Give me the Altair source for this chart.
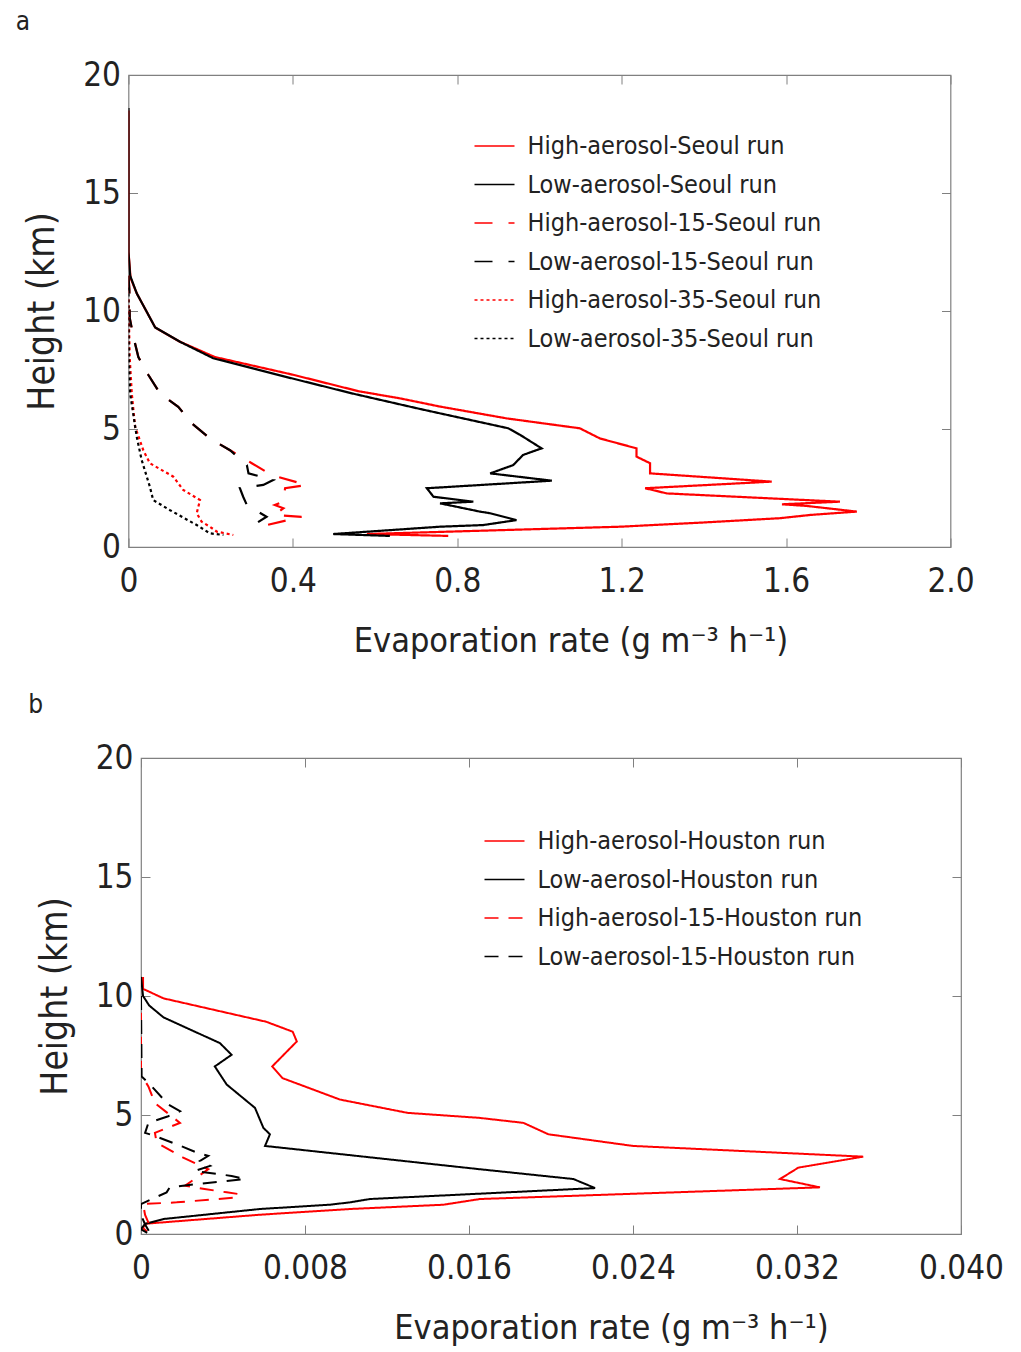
import altair as alt
import pandas as pd

FONT = "DejaVu Sans Condensed, DejaVu Sans, sans-serif"
GRAY = "#808080"

# ---------------- Panel a (Seoul) ----------------
a_series = ["High-aerosol-Seoul run", "Low-aerosol-Seoul run",
            "High-aerosol-15-Seoul run", "Low-aerosol-15-Seoul run",
            "High-aerosol-35-Seoul run", "Low-aerosol-35-Seoul run"]
a_colors = ["#ff0000", "#000000", "#ff0000", "#000000", "#ff0000", "#000000"]
a_dashes = [[1, 0], [1, 0], [18, 16], [18, 16], [3, 3], [3, 3]]

a_hi_h = [18.5, 12.5, 11.4, 10.75, 9.3, 8.7, 8.05, 7.3, 6.6, 6.3, 5.95, 5.45, 5.03, 4.6, 4.18, 3.83, 3.55,
          3.12, 2.77, 2.49, 2.27, 1.92, 1.81, 1.74, 1.5, 1.36, 1.22, 1.03, 0.86, 0.55, 0.47]
a_hi_v = [0.0, 0.0, 0.005, 0.02, 0.065, 0.125, 0.21, 0.40, 0.56, 0.66, 0.758, 0.92, 1.098, 1.147, 1.236, 1.236, 1.269,
          1.269, 1.565, 1.257, 1.31, 1.731, 1.59, 1.65, 1.772, 1.66, 1.585, 1.39, 1.196, 0.58, 0.778]

a_lo_h = [18.6, 12.5, 11.5, 10.75, 9.3, 8.7, 8.0, 7.2, 6.5, 5.85, 5.03, 4.75, 4.18, 3.9, 3.47, 3.12, 2.81,
          2.49, 2.13, 1.92, 1.85, 1.5, 1.43, 1.14, 0.93, 0.86, 0.55, 0.47]
a_lo_v = [0.0, 0.0, 0.004, 0.02, 0.065, 0.125, 0.206, 0.385, 0.546, 0.709, 0.924, 0.953, 1.005, 0.96, 0.936, 0.88, 1.03,
          0.726, 0.742, 0.839, 0.758, 0.855, 0.88, 0.944, 0.863, 0.758, 0.498, 0.636]

a_hi15_h = [11.5, 10.9, 9.7, 8.9, 8.05, 7.3, 6.5, 5.94, 5.24, 4.6, 4.1, 3.55, 3.05, 2.63, 2.49, 1.92, 1.78,
            1.64, 1.36, 1.28, 0.93, 0.86]
a_hi15_v = [0.0, 0.002, 0.003, 0.012, 0.024, 0.048, 0.077, 0.121, 0.154, 0.198, 0.247, 0.30, 0.348, 0.433, 0.381,
            0.377, 0.356, 0.377, 0.356, 0.421, 0.336, 0.312]

a_lo15_h = [11.5, 10.9, 9.7, 8.9, 8.05, 7.3, 6.5, 5.94, 5.24, 4.6, 4.1, 3.47, 3.12, 2.84, 2.63, 2.49, 2.13,
            1.78, 1.28, 0.93, 0.86]
a_lo15_v = [0.0, 0.002, 0.003, 0.012, 0.024, 0.048, 0.077, 0.121, 0.154, 0.198, 0.247, 0.288, 0.292, 0.352, 0.328,
            0.271, 0.279, 0.288, 0.336, 0.304, 0.296]

a_hi35_h = [10.5, 8.0, 6.5, 5.1, 4.1, 3.55, 2.98, 2.42, 1.99, 1.43, 1.07, 0.86, 0.65, 0.51]
a_hi35_v = [0.0, 0.003, 0.008, 0.016, 0.036, 0.052, 0.109, 0.133, 0.174, 0.166, 0.178, 0.198, 0.215, 0.255]

a_lo35_h = [11.0, 8.0, 6.5, 4.67, 3.69, 2.55, 1.99, 1.57, 0.93, 0.58, 0.51]
a_lo35_v = [0.0, 0.001, 0.004, 0.02, 0.032, 0.052, 0.06, 0.1, 0.166, 0.198, 0.231]

a_xticks = [0, 0.4, 0.8, 1.2, 1.6, 2.0]

# ---------------- Panel b (Houston) ----------------
b_series = ["High-aerosol-Houston run", "Low-aerosol-Houston run",
            "High-aerosol-15-Houston run", "Low-aerosol-15-Houston run"]
b_colors = ["#ff0000", "#000000", "#ff0000", "#000000"]
b_dashes = [[1, 0], [1, 0], [14, 10], [14, 10]]

b_hi_h = [10.8, 10.3, 9.9, 8.92, 8.5, 8.09, 7.04, 6.55, 5.65, 5.09, 4.88, 4.67, 4.19, 3.7, 3.25, 2.79,
          2.31, 1.96, 1.47, 1.23, 1.05, 0.81, 0.43, 0.25, 0.1]
b_hi_v = [0.0001, 0.0001, 0.0011, 0.0061, 0.0074, 0.0076, 0.0064, 0.0069, 0.0097, 0.013, 0.0165, 0.01865,
          0.01987, 0.024, 0.03523, 0.03207, 0.03117, 0.03312, 0.01654, 0.01475, 0.0102, 0.0058, 0.0002,
          0.0001, 0.0003]

b_lo_h = [10.8, 10.0, 9.6, 9.1, 8.02, 7.53, 7.04, 6.28, 5.3, 4.46, 4.19, 3.7, 2.72, 2.31, 1.93, 1.47,
          1.33, 1.23, 1.05, 0.63, 0.43, 0.2, 0.05]
b_lo_v = [0.0, 0.0001, 0.0004, 0.0011, 0.00385, 0.00442, 0.0036, 0.00418, 0.00556, 0.00597, 0.00629,
          0.00605, 0.01654, 0.02109, 0.02215, 0.01117, 0.0102, 0.0092, 0.0058, 0.0011, 0.0002, 0.0, 0.0003]

b_hi15_h = [9.3, 6.7, 6.2, 5.5, 4.67, 4.25, 3.84, 3.21, 2.72, 2.03, 1.89, 1.75, 1.68, 1.54, 1.33, 1.26,
            0.8, 0.4, 0.1]
b_hi15_v = [0.0, 0.0, 0.00036, 0.00068, 0.0019, 0.00068, 0.00076, 0.00206, 0.00328, 0.00215, 0.0031,
            0.00418, 0.00475, 0.00475, 0.00174, 0.0001, 0.0002, 0.0004, 0.0002]

b_lo15_h = [10.0, 6.62, 6.28, 5.44, 5.16, 4.95, 4.67, 4.25, 4.12, 3.7, 3.42, 3.28, 3.07, 2.86, 2.65, 2.44,
            2.31, 2.1, 1.96, 1.75, 1.26, 0.8, 0.4, 0.1]
b_lo15_v = [0.0, 0.00003, 0.00044, 0.00133, 0.0019, 0.00133, 0.00036, 0.0002, 0.00068, 0.00194, 0.00272,
            0.00328, 0.00288, 0.00337, 0.00263, 0.00442, 0.00507, 0.00272, 0.0014, 0.00125, 0.0, 0.0,
            0.0002, 0.0004]

b_xticks = [0, 0.008, 0.016, 0.024, 0.032, 0.040]

y_ticks = [0, 5, 10, 15, 20]


def build_df(series, hs, vs):
    rows = []
    for name, h_list, v_list in zip(series, hs, vs):
        for i, (h, v) in enumerate(zip(h_list, v_list)):
            rows.append({"series": name, "h": h, "v": v, "idx": i})
    return pd.DataFrame(rows)


df_a = build_df(a_series,
                [a_hi_h, a_lo_h, a_hi15_h, a_lo15_h, a_hi35_h, a_lo35_h],
                [a_hi_v, a_lo_v, a_hi15_v, a_lo15_v, a_hi35_v, a_lo35_v])
df_b = build_df(b_series,
                [b_hi_h, b_lo_h, b_hi15_h, b_lo15_h],
                [b_hi_v, b_lo_v, b_hi15_v, b_lo15_v])

TICK = 9


def panel(df, series, colors, dashes, xmax, xticks, xfmt, letter, letter_dx, legend_x, legend_y,
          width, height, title_x, line_w):
    xscale = alt.Scale(domain=[0, xmax], nice=False, zero=True)
    yscale = alt.Scale(domain=[0, 20], nice=False)
    leg = alt.Legend(title=None, orient="none", legendX=legend_x, legendY=legend_y,
                     symbolType="stroke", symbolSize=1600, symbolStrokeWidth=1.5,
                     labelFont=FONT, labelFontSize=25, labelColor="#222",
                     labelOffset=12, rowPadding=4.5, labelLimit=500)
    x_axis = alt.Axis(values=xticks,
                      labelExpr=f"datum.value == 0 ? '0' : format(datum.value, '{xfmt}')",
                      orient="bottom", offset=-TICK, tickSize=TICK, tickColor=GRAY,
                      domain=False, grid=False, labelFlush=False, labelPadding=18,
                      labelFont=FONT, labelFontSize=33, labelColor="#222",
                      title="Evaporation rate (g m\u207b\u00b3 h\u207b\u00b9)",
                      titleFont=FONT, titleFontSize=34, titleFontWeight="normal",
                      titleColor="#222", titleX=title_x, titlePadding=26)
    y_axis = alt.Axis(values=y_ticks, orient="left", offset=-TICK, tickSize=TICK,
                      tickColor=GRAY, domain=False, grid=False, labelFlush=False,
                      labelPadding=8, labelFont=FONT, labelFontSize=33, labelColor="#222",
                      title="Height (km)", titleFont=FONT, titleFontSize=37,
                      titleFontWeight="normal", titleColor="#222", titlePadding=21)
    lines = alt.Chart(df).mark_line(strokeWidth=line_w, clip=True).encode(
        x=alt.X("v:Q", scale=xscale, axis=x_axis),
        y=alt.Y("h:Q", scale=yscale, axis=y_axis),
        color=alt.Color("series:N", scale=alt.Scale(domain=series, range=colors), legend=leg),
        strokeDash=alt.StrokeDash("series:N", scale=alt.Scale(domain=series, range=dashes), legend=leg),
        order=alt.Order("idx:Q"),
    )
    x_axis2 = alt.Axis(values=xticks, orient="top", offset=-TICK, tickSize=TICK, tickColor=GRAY,
                       domain=False, grid=False, labels=False, title=None)
    y_axis2 = alt.Axis(values=y_ticks, orient="right", offset=-TICK, tickSize=TICK, tickColor=GRAY,
                       domain=False, grid=False, labels=False, title=None)
    ghost = alt.Chart(df).mark_line(opacity=0, clip=True).encode(
        x=alt.X("v:Q", scale=xscale, axis=x_axis2),
        y=alt.Y("h:Q", scale=yscale, axis=y_axis2),
        detail="series:N",
        order=alt.Order("idx:Q"),
    )
    return alt.layer(lines, ghost).resolve_axis(x="independent", y="independent").properties(
        width=width, height=height,
        title=alt.TitleParams(letter, anchor="start", font=FONT, fontSize=26,
                              fontWeight="normal", color="#222", dx=letter_dx, offset=24),
    )


pa = panel(df_a, a_series, a_colors, a_dashes, 2.0, a_xticks, ".1f", "a", -8,
           462, 50, 822, 472, 442, 2.2)
pb = panel(df_b, b_series, b_colors, b_dashes, 0.04, b_xticks, ".3f", "b", -8,
           472, 62, 820, 476, 470, 2.0)


def spacer():
    return alt.Chart(pd.DataFrame({"s": [0]})).mark_point(opacity=0).encode(
        x=alt.value(0), y=alt.value(0)
    ).properties(width=1, height=1, view=alt.ViewBackground(strokeOpacity=0))


top_row = alt.hconcat(spacer(), pa, spacing=0)
bottom_row = alt.hconcat(spacer(), pb, spacing=12.5)

chart = alt.vconcat(top_row, bottom_row, spacing=32).properties(
    padding={"left": 8.5, "top": 8, "right": 0, "bottom": 0}
).resolve_scale(color="independent", strokeDash="independent").resolve_legend(
    color="independent", strokeDash="independent"
).configure_view(stroke=GRAY, strokeWidth=1.2)

chart.save("out.html", embed_options={"renderer": "svg", "actions": False})
